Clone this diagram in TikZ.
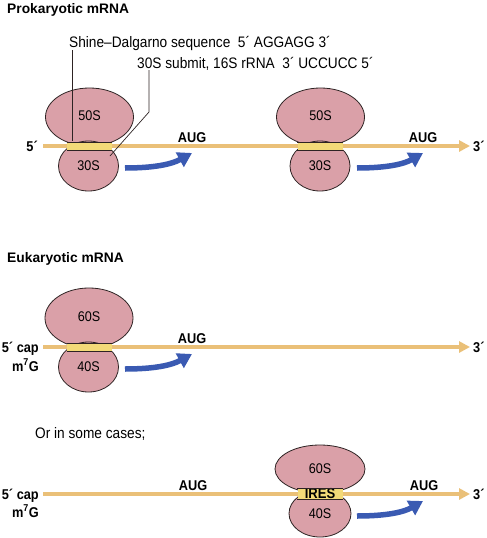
\documentclass[tikz,border=0pt]{standalone}
\usepackage{fontspec}
\setmainfont{Liberation Sans}[FakeStretch=0.9]
\newfontfamily\titlefont{Liberation Sans}
\usetikzlibrary{positioning,arrows.meta,shapes.geometric}
\definecolor{ribo}{RGB}{218,160,168}
\definecolor{edge}{RGB}{45,35,35}
\definecolor{bandy}{RGB}{243,218,120}
\definecolor{rna}{RGB}{234,192,120}
\definecolor{slideblue}{RGB}{58,90,178}

\begin{document}
\begin{tikzpicture}[x=1pt,y=-1pt,
  every node/.style={font=\fontsize{15.2}{17}\selectfont, inner sep=0pt},
  bigsub/.style={ellipse, draw=edge, fill=ribo, line width=0.8pt, minimum width=88pt, minimum height=58pt, font=\fontsize{14}{16}\selectfont},
  smallsub/.style={ellipse, draw=edge, fill=ribo, line width=0.8pt, minimum width=60pt, minimum height=50pt, font=\fontsize{14}{16}\selectfont},
  band/.style={rectangle, fill=bandy, minimum width=45pt, minimum height=8pt},
  rim/.style={draw=edge, line width=0.6pt},
  lbl/.style={font=\fontsize{14.2}{16}\selectfont\bfseries},
  title/.style={font=\titlefont\fontsize{13.8}{16}\selectfont\bfseries, anchor=base west},
  mrna/.style={draw=rna, line width=4pt, -{Triangle[length=11pt,width=11pt]}},
  slide/.style={draw=slideblue, line width=5.5pt, -{Triangle[length=14pt,width=16pt]}}]
  \useasboundingbox (0,0) rectangle (487,538);

  \coordinate (p5a) at (43,146);
  \coordinate (p3a) at (470,146);
  \coordinate (p5b) at (43,347);
  \coordinate (p3b) at (470,347);
  \coordinate (p5c) at (43,494);
  \coordinate (p3c) at (470,494);

  \node[title] (prok) at (7,13.5) {Prokaryotic mRNA};
  \node[title] (euk)  at (7,262) {Eukaryotic mRNA};
  \node[anchor=base west] (some) at (35,438) {Or in some cases;};

  \node[anchor=base west] (sdlabel) at (69,47) {Shine--Dalgarno sequence\enspace 5´ AGGAGG 3´};
  \node[anchor=base west] (rrlabel) at (137,68) {30S submit, 16S rRNA\enspace 3´ UCCUCC 5´};

  \draw[mrna] (p5a) -- (p3a);
  \draw[mrna] (p5b) -- (p3b);
  \draw[mrna] (p5c) -- (p3c);

  \node[lbl, anchor=base east] (fa) at (38,151) {5´};
  \node[lbl, anchor=base west] (ta) at (473,151) {3´};
  \node[lbl, anchor=base east] (capb) at (39,352) {5´ cap};
  \node[lbl, anchor=base east] (mgb)  at (39,371) {m\textsuperscript{7}G};
  \node[lbl, anchor=base west] (tb) at (473,352) {3´};
  \node[lbl, anchor=base east] (capc) at (39,499) {5´ cap};
  \node[lbl, anchor=base east] (mgc)  at (39,517) {m\textsuperscript{7}G};
  \node[lbl, anchor=base west] (tc) at (473,499) {3´};

  \node[lbl, anchor=base] (auga) at (192,142) {AUG};
  \node[lbl, anchor=base] (augb) at (423,142) {AUG};
  \node[lbl, anchor=base] (augc) at (192,343) {AUG};
  \node[lbl, anchor=base] (augd) at (193,490) {AUG};
  \node[lbl, anchor=base] (auge) at (424,490) {AUG};

  \node[bigsub]   (la) at (89.5,117) {\raisebox{2pt}{50S}};
  \node[smallsub] (sa) at (88.5,166) {\raisebox{-3pt}{30S}};
  \node[band]     (ba) at (89.5,146) {};
  \draw[rim] (ba.north west) -- (ba.north east) (ba.south west) -- (ba.south east);
  \node[bigsub]   (lb) at (320.5,117) {\raisebox{2pt}{50S}};
  \node[smallsub] (sb) at (320,166) {\raisebox{-3pt}{30S}};
  \node[band]     (bb) at (320,146) {};
  \draw[rim] (bb.north west) -- (bb.north east) (bb.south west) -- (bb.south east);
  \node[bigsub, minimum height=60pt] (lc) at (89,318) {\raisebox{2pt}{60S}};
  \node[smallsub] (sc) at (88.5,367) {\raisebox{-3pt}{40S}};
  \node[band]     (bc) at (89.5,347) {};
  \draw[rim] (bc.north west) -- (bc.north east) (bc.south west) -- (bc.south east);
  \node[bigsub, minimum width=90pt, minimum height=48pt] (ld) at (320,469) {\raisebox{-1pt}{60S}};
  \node[smallsub, minimum width=62pt, minimum height=47pt] (sd) at (320,513.5) {\raisebox{-4pt}{40S}};
  \node[band, font=\fontsize{14.5}{16}\selectfont\bfseries] (bd) at (320,494) {IRES};
  \draw[rim] (bd.north west) -- (bd.north east) (bd.south west) -- (bd.south east);

  \coordinate (sdpt) at (72,141);
  \coordinate (rrbend) at (149,112);
  \coordinate (rrpt) at (110,156);
  \draw[edge, line width=0.7pt] (sdpt |- sdlabel.south) -- (sdpt);
  \draw[edge, line width=0.7pt] (rrbend |- rrlabel.south) -- (rrbend) -- (rrpt);

  \coordinate (ga1) at (125,168); \coordinate (ga2) at (192,153);
  \coordinate (gb1) at (357,168); \coordinate (gb2) at (423,153);
  \coordinate (gc1) at (125,369); \coordinate (gc2) at (192,354);
  \coordinate (gd1) at (357,516); \coordinate (gd2) at (423,501);
  \draw[slide] (ga1) .. controls (155,168) and (172,164) .. (ga2);
  \draw[slide] (gb1) .. controls (387,168) and (404,164) .. (gb2);
  \draw[slide] (gc1) .. controls (155,369) and (172,365) .. (gc2);
  \draw[slide] (gd1) .. controls (387,516) and (404,512) .. (gd2);
\end{tikzpicture}
\end{document}
